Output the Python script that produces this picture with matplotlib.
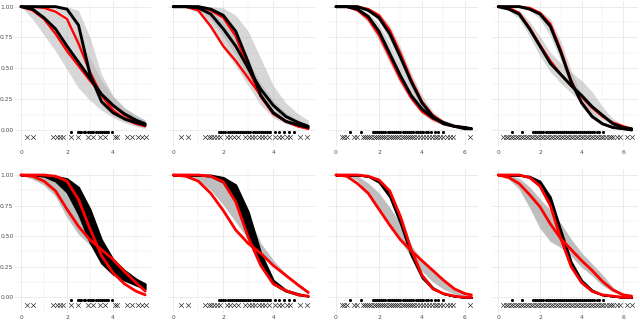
import numpy as np
import matplotlib.pyplot as plt
from matplotlib.ticker import FixedLocator

# time grids (x values the curves were read at)
t_short = [0, 0.5, 1, 1.5, 2, 2.5, 3, 3.5, 4, 4.5, 5, 5.4]
t_mid = [0, 0.5, 1, 1.5, 2, 2.5, 3, 3.5, 4, 4.5, 5, 5.5, 6, 6.3]
t_long = [0, 0.5, 1, 1.5, 2, 2.5, 3, 3.5, 4, 4.5, 5, 5.5, 6, 6.4]

# --- top row: two estimates (black) with ribbons, two reference curves (red) ---
p1_band_a_lo = [1, 1, 1, 0.98, 0.92, 0.72, 0.40, 0.20, 0.12, 0.07, 0.04, 0.02]
p1_band_a_hi = [1, 1, 1, 1, 1, 0.97, 0.75, 0.45, 0.28, 0.18, 0.12, 0.08]
p1_band_b_lo = [1, 0.90, 0.77, 0.64, 0.49, 0.34, 0.24, 0.16, 0.10, 0.06, 0.03, 0.01]
p1_band_b_hi = [1, 1, 0.99, 0.96, 0.88, 0.75, 0.58, 0.40, 0.27, 0.18, 0.12, 0.08]
p1_black_a = [1, 1, 1, 1, 0.98, 0.85, 0.45, 0.23, 0.14, 0.09, 0.06, 0.04]
p1_black_b = [1, 0.98, 0.91, 0.82, 0.68, 0.55, 0.42, 0.29, 0.20, 0.13, 0.08, 0.05]
p1_red_a = [1, 1, 0.99, 0.96, 0.90, 0.70, 0.47, 0.28, 0.16, 0.09, 0.05, 0.03]
p1_red_b = [1, 0.97, 0.90, 0.78, 0.64, 0.52, 0.40, 0.29, 0.20, 0.12, 0.07, 0.04]

p2_band_a_lo = [1, 1, 0.95, 0.82, 0.66, 0.52, 0.36, 0.20, 0.10, 0.05, 0.02, 0.01]
p2_band_a_hi = [1, 1, 1, 1, 0.99, 0.93, 0.80, 0.58, 0.36, 0.22, 0.13, 0.08]
p2_band_b_lo = [1, 1, 0.98, 0.90, 0.76, 0.60, 0.43, 0.27, 0.15, 0.08, 0.04, 0.02]
p2_band_b_hi = [1, 1, 1, 0.97, 0.88, 0.74, 0.56, 0.38, 0.24, 0.14, 0.08, 0.05]
p2_black_a = [1, 1, 0.99, 0.94, 0.82, 0.68, 0.50, 0.33, 0.20, 0.11, 0.06, 0.03]
p2_black_b = [1, 1, 1, 0.98, 0.93, 0.80, 0.55, 0.28, 0.14, 0.07, 0.04, 0.02]
p2_red_a = [1, 1, 0.97, 0.84, 0.68, 0.56, 0.42, 0.28, 0.14, 0.07, 0.03, 0.01]
p2_red_b = [1, 1, 1, 0.97, 0.91, 0.76, 0.50, 0.27, 0.13, 0.07, 0.03, 0.01]

p3_band_a_lo = [1, 1, 0.96, 0.87, 0.72, 0.54, 0.37, 0.23, 0.13, 0.07, 0.04, 0.02, 0.01, 0.01]
p3_band_a_hi = [1, 1, 0.99, 0.95, 0.86, 0.70, 0.52, 0.34, 0.21, 0.13, 0.08, 0.05, 0.03, 0.02]
p3_band_b_lo = [1, 1, 1, 0.96, 0.88, 0.72, 0.52, 0.33, 0.18, 0.09, 0.04, 0.02, 0.01, 0.01]
p3_band_b_hi = [1, 1, 1, 0.99, 0.95, 0.85, 0.67, 0.46, 0.28, 0.15, 0.08, 0.04, 0.02, 0.01]
p3_black_a = [1, 1, 0.98, 0.92, 0.80, 0.62, 0.44, 0.28, 0.17, 0.10, 0.06, 0.03, 0.02, 0.01]
p3_black_b = [1, 1, 1, 0.97, 0.91, 0.78, 0.59, 0.39, 0.22, 0.11, 0.05, 0.03, 0.01, 0.01]
p3_red_a = [1, 1, 0.97, 0.90, 0.77, 0.59, 0.41, 0.26, 0.15, 0.09, 0.05, 0.03, 0.02, 0.01]
p3_red_b = [1, 1, 1, 0.98, 0.93, 0.81, 0.62, 0.41, 0.23, 0.12, 0.06, 0.03, 0.02, 0.01]

p4_band_a_lo = [1, 0.97, 0.90, 0.76, 0.60, 0.47, 0.38, 0.30, 0.22, 0.14, 0.08, 0.04, 0.02, 0.01]
p4_band_a_hi = [1, 0.99, 0.97, 0.88, 0.76, 0.63, 0.54, 0.47, 0.40, 0.31, 0.19, 0.09, 0.04, 0.02]
p4_band_b_lo = [1, 1, 1, 0.97, 0.90, 0.76, 0.56, 0.34, 0.19, 0.09, 0.04, 0.02, 0.01, 0]
p4_band_b_hi = [1, 1, 1, 0.99, 0.97, 0.90, 0.72, 0.48, 0.28, 0.15, 0.07, 0.03, 0.01, 0]
p4_black_a = [1, 0.98, 0.94, 0.82, 0.68, 0.54, 0.45, 0.36, 0.28, 0.19, 0.12, 0.05, 0.02, 0.01]
p4_black_b = [1, 1, 1, 0.98, 0.94, 0.84, 0.63, 0.39, 0.22, 0.11, 0.05, 0.02, 0.01, 0]
p4_red_a = [1, 0.99, 0.95, 0.83, 0.69, 0.56, 0.45, 0.36, 0.27, 0.18, 0.11, 0.06, 0.03, 0.01]
p4_red_b = [1, 1, 1, 0.99, 0.95, 0.86, 0.65, 0.40, 0.22, 0.11, 0.05, 0.02, 0.01, 0]

# --- bottom row: grey and black ensembles, two red curves ---
p5_grey_lo = [1, 0.97, 0.92, 0.83, 0.66, 0.52, 0.43, 0.35, 0.27, 0.19, 0.11, 0.05]
p5_grey_hi = [1, 1, 1, 0.99, 0.97, 0.90, 0.72, 0.47, 0.31, 0.22, 0.15, 0.11]
p5_black_lo = [1, 1, 0.99, 0.95, 0.86, 0.68, 0.45, 0.28, 0.19, 0.14, 0.10, 0.07]
p5_black_hi = [1, 1, 1, 0.99, 0.97, 0.90, 0.72, 0.47, 0.31, 0.22, 0.15, 0.11]
p5_red_a = [1, 1, 1, 0.99, 0.95, 0.80, 0.56, 0.34, 0.20, 0.11, 0.05, 0.02]
p5_red_b = [1, 0.99, 0.95, 0.87, 0.72, 0.58, 0.47, 0.39, 0.31, 0.21, 0.12, 0.05]

p6_grey_lo = [1, 0.99, 0.96, 0.88, 0.76, 0.62, 0.48, 0.36, 0.26, 0.17, 0.09, 0.03]
p6_grey_hi = [1, 1, 1, 1, 0.97, 0.88, 0.66, 0.44, 0.30, 0.19, 0.10, 0.04]
p6_black_lo = [1, 1, 1, 0.99, 0.94, 0.78, 0.49, 0.26, 0.11, 0.05, 0.02, 0.01]
p6_black_hi = [1, 1, 1, 1, 0.98, 0.92, 0.70, 0.36, 0.14, 0.06, 0.03, 0.01]
p6_red_a = [1, 1, 1, 0.99, 0.945, 0.78, 0.49, 0.26, 0.11, 0.055, 0.02, 0.01]
p6_red_b = [1, 0.99, 0.95, 0.85, 0.71, 0.55, 0.44, 0.36, 0.26, 0.18, 0.10, 0.04]

p7_grey_lo = [1, 1, 0.96, 0.85, 0.72, 0.59, 0.47, 0.33, 0.22, 0.13, 0.07, 0.03, 0.01, 0]
p7_grey_hi = [1, 1, 0.99, 0.93, 0.85, 0.73, 0.60, 0.42, 0.30, 0.22, 0.14, 0.07, 0.03, 0.02]
p7_black_lo = [1, 1, 1, 0.99, 0.94, 0.82, 0.60, 0.34, 0.16, 0.07, 0.03, 0.01, 0, 0]
p7_black_hi = [1, 1, 1, 0.99, 0.96, 0.86, 0.65, 0.38, 0.18, 0.08, 0.03, 0.01, 0, 0]
p7_red_a = [1, 1, 1, 0.99, 0.96, 0.87, 0.66, 0.39, 0.18, 0.07, 0.03, 0.01, 0, 0]
p7_red_b = [1, 0.99, 0.93, 0.85, 0.72, 0.59, 0.47, 0.38, 0.30, 0.22, 0.14, 0.07, 0.03, 0.02]

p8_grey_lo = [1, 0.97, 0.89, 0.74, 0.57, 0.46, 0.41, 0.34, 0.25, 0.18, 0.10, 0.05, 0.01, 0]
p8_grey_hi = [1, 1, 0.97, 0.90, 0.80, 0.71, 0.60, 0.47, 0.36, 0.27, 0.18, 0.08, 0.02, 0.01]
p8_black_lo = [1, 1, 1, 0.98, 0.91, 0.75, 0.48, 0.25, 0.12, 0.05, 0.02, 0.01, 0, 0]
p8_black_hi = [1, 1, 1, 0.99, 0.95, 0.82, 0.55, 0.29, 0.14, 0.06, 0.02, 0.01, 0, 0]
p8_red_a = [1, 1, 1, 0.98, 0.91, 0.75, 0.48, 0.25, 0.12, 0.05, 0.02, 0.01, 0, 0]
p8_red_b = [1, 0.98, 0.93, 0.84, 0.74, 0.60, 0.48, 0.39, 0.30, 0.22, 0.13, 0.06, 0.02, 0.01]

# --- event (dots) and censoring (crosses) times, one set per column ---
dots_1 = [2.17, 2.46, 2.55, 2.63, 2.72, 2.8, 2.9, 2.98, 3.07, 3.15, 3.24, 3.33, 3.43,
          3.54, 3.62, 3.7, 3.8, 3.94]
cross_1 = [0.25, 0.51, 1.41, 1.55, 1.7, 1.81, 2.17, 2.46, 2.9, 3.14, 3.43, 3.65, 4.09,
           4.19, 4.59, 4.84, 5.1, 5.28, 5.42]
dots_2 = [1.81, 1.9, 2.0, 2.08, 2.17, 2.25, 2.33, 2.42, 2.5, 2.58, 2.66, 2.75, 2.83, 2.92,
          3.0, 3.08, 3.17, 3.25, 3.33, 3.42, 3.5, 3.58, 3.67, 3.75, 3.83, 3.88, 4.08,
          4.24, 4.41, 4.61, 4.81]
cross_2 = [0.31, 0.57, 1.28, 1.41, 1.51, 1.61, 1.75, 1.88, 2.15, 2.28, 2.41, 2.57, 2.88,
           3.01, 3.15, 3.28, 3.41, 3.55, 3.68, 3.81, 4.08, 4.21, 4.35, 4.55, 4.68, 5.08, 5.35]
dots_3 = [0.65, 1.15, 1.71, 1.8, 1.9, 2.0, 2.1, 2.2, 2.3, 2.4, 2.5, 2.6, 2.7, 2.8, 2.9,
          3.0, 3.1, 3.2, 3.3, 3.4, 3.5, 3.6, 3.7, 3.8, 3.9, 4.0, 4.06, 4.18, 4.29, 4.44,
          4.6, 4.76, 4.99]
cross_3 = [0.26, 0.37, 0.5, 0.84, 0.96, 1.27, 1.35, 1.45, 1.55, 1.65, 1.75, 1.85, 1.95,
           2.05, 2.15, 2.25, 2.35, 2.45, 2.55, 2.65, 2.75, 2.85, 2.95, 3.05, 3.15, 3.25,
           3.35, 3.45, 3.55, 3.65, 3.75, 3.9, 4.06, 4.2, 4.32, 4.45, 4.6, 4.72, 4.85, 5.0,
           5.15, 5.3, 5.46, 6.23]
dots_4 = [0.67, 1.15, 1.68, 1.78, 1.88, 1.97, 2.07, 2.17, 2.27, 2.37, 2.46, 2.56, 2.66,
          2.76, 2.86, 2.95, 3.05, 3.15, 3.25, 3.35, 3.44, 3.54, 3.64, 3.74, 3.84, 3.93,
          4.03, 4.13, 4.23, 4.33, 4.4, 4.48, 4.6, 4.72, 4.85, 5.04]
cross_4 = [0.24, 0.36, 0.48, 0.61, 0.72, 0.84, 0.97, 1.08, 1.2, 1.33, 1.44, 1.56, 1.69,
           1.8, 1.92, 2.05, 2.16, 2.28, 2.41, 2.52, 2.64, 2.77, 2.88, 3.0, 3.13, 3.24,
           3.36, 3.49, 3.6, 3.72, 3.85, 3.96, 4.08, 4.21, 4.32, 4.44, 4.57, 4.68, 4.8,
           4.93, 5.04, 5.16, 5.29, 5.4, 5.52, 5.68, 5.84, 6.16, 6.4]

W, H = 640, 320
# column pixel extents and x limits
cols = [
    (14.8, 151.4, (-0.27, 5.67), [0, 2, 4]),
    (166.5, 315.0, (-0.27, 5.67), [0, 2, 4]),
    (329.2, 478.2, (-0.315, 6.615), [0, 2, 4, 6]),
    (491.6, 638.3, (-0.32, 6.72), [0, 2, 4, 6]),
]
rows = [(0.5, 146.0, 3.0), (168.9, 313.2, 1.2)]
YLIM = (-0.13, 1.05)
RED = '#ff0000'
GRID = '#ebebeb'


def make_ax(fig, col, row):
    left, right, xlim, xticks = cols[col]
    top, bottom, pad = rows[row]
    ax = fig.add_axes([left / W, 1 - bottom / H, (right - left) / W, (bottom - top) / H])
    ax.set_xlim(*xlim)
    ax.set_ylim(*YLIM)
    for s in ax.spines.values():
        s.set_visible(False)
    ax.xaxis.set_major_locator(FixedLocator(xticks))
    ax.xaxis.set_minor_locator(FixedLocator([1, 3, 5]))
    ax.yaxis.set_major_locator(FixedLocator([0, 0.25, 0.5, 0.75, 1.0]))
    ax.yaxis.set_minor_locator(FixedLocator([0.125, 0.375, 0.625, 0.875]))
    ax.grid(True, which='major', color=GRID, lw=0.7)
    ax.grid(True, which='minor', color=GRID, lw=0.35)
    ax.set_axisbelow(True)
    ax.tick_params(which='both', length=0, labelsize=4.3, labelcolor='#4d4d4d')
    ax.tick_params(axis='x', pad=pad)
    ax.tick_params(axis='y', pad=1)
    if col == 0:
        ax.set_yticklabels(['0.00', '0.25', '0.50', '0.75', '1.00'])
    else:
        ax.set_yticklabels([])
    return ax


def draw_marks(ax, dots, cross):
    ax.scatter(dots, [-0.02] * len(dots), s=5, color='black', lw=0, zorder=5)
    ax.scatter(cross, [-0.06] * len(cross), s=11, marker='x', color='#333333', lw=0.5, zorder=5)


def draw_top(ax, t, bands, blacks, reds):
    for lo, hi in bands:
        ax.fill_between(t, lo, hi, color='#b0b0b0', alpha=0.5, lw=0)
    for r in reds:
        ax.plot(t, r, color=RED, lw=1.7, solid_capstyle='round', solid_joinstyle='round')
    for b in blacks:
        ax.plot(t, b, color='black', lw=2.1, solid_capstyle='round', solid_joinstyle='round')


def draw_bottom(ax, t, grey, black, reds):
    ax.fill_between(t, grey[0], grey[1], color='#bebebe', lw=0.5, edgecolor='#bebebe')
    ax.fill_between(t, black[0], black[1], color='black', lw=1.4, edgecolor='black')
    for r in reds:
        ax.plot(t, r, color=RED, lw=2.0, solid_capstyle='round', solid_joinstyle='round')


fig = plt.figure(figsize=(W / 100, H / 100), dpi=100)

marks = [(dots_1, cross_1), (dots_2, cross_2), (dots_3, cross_3), (dots_4, cross_4)]

top_panels = [
    (t_short, [(p1_band_b_lo, p1_band_b_hi), (p1_band_a_lo, p1_band_a_hi)],
     [p1_black_a, p1_black_b], [p1_red_a, p1_red_b]),
    (t_short, [(p2_band_a_lo, p2_band_a_hi), (p2_band_b_lo, p2_band_b_hi)],
     [p2_black_a, p2_black_b], [p2_red_a, p2_red_b]),
    (t_mid, [(p3_band_a_lo, p3_band_a_hi), (p3_band_b_lo, p3_band_b_hi)],
     [p3_black_a, p3_black_b], [p3_red_a, p3_red_b]),
    (t_long, [(p4_band_a_lo, p4_band_a_hi), (p4_band_b_lo, p4_band_b_hi)],
     [p4_black_a, p4_black_b], [p4_red_a, p4_red_b]),
]
bottom_panels = [
    (t_short, (p5_grey_lo, p5_grey_hi), (p5_black_lo, p5_black_hi), [p5_red_a, p5_red_b]),
    (t_short, (p6_grey_lo, p6_grey_hi), (p6_black_lo, p6_black_hi), [p6_red_a, p6_red_b]),
    (t_mid, (p7_grey_lo, p7_grey_hi), (p7_black_lo, p7_black_hi), [p7_red_a, p7_red_b]),
    (t_long, (p8_grey_lo, p8_grey_hi), (p8_black_lo, p8_black_hi), [p8_red_a, p8_red_b]),
]

for i in range(4):
    ax = make_ax(fig, i, 0)
    draw_top(ax, *top_panels[i])
    draw_marks(ax, *marks[i])

    ax = make_ax(fig, i, 1)
    draw_bottom(ax, *bottom_panels[i])
    draw_marks(ax, *marks[i])

fig.savefig('out.png', dpi=100)
